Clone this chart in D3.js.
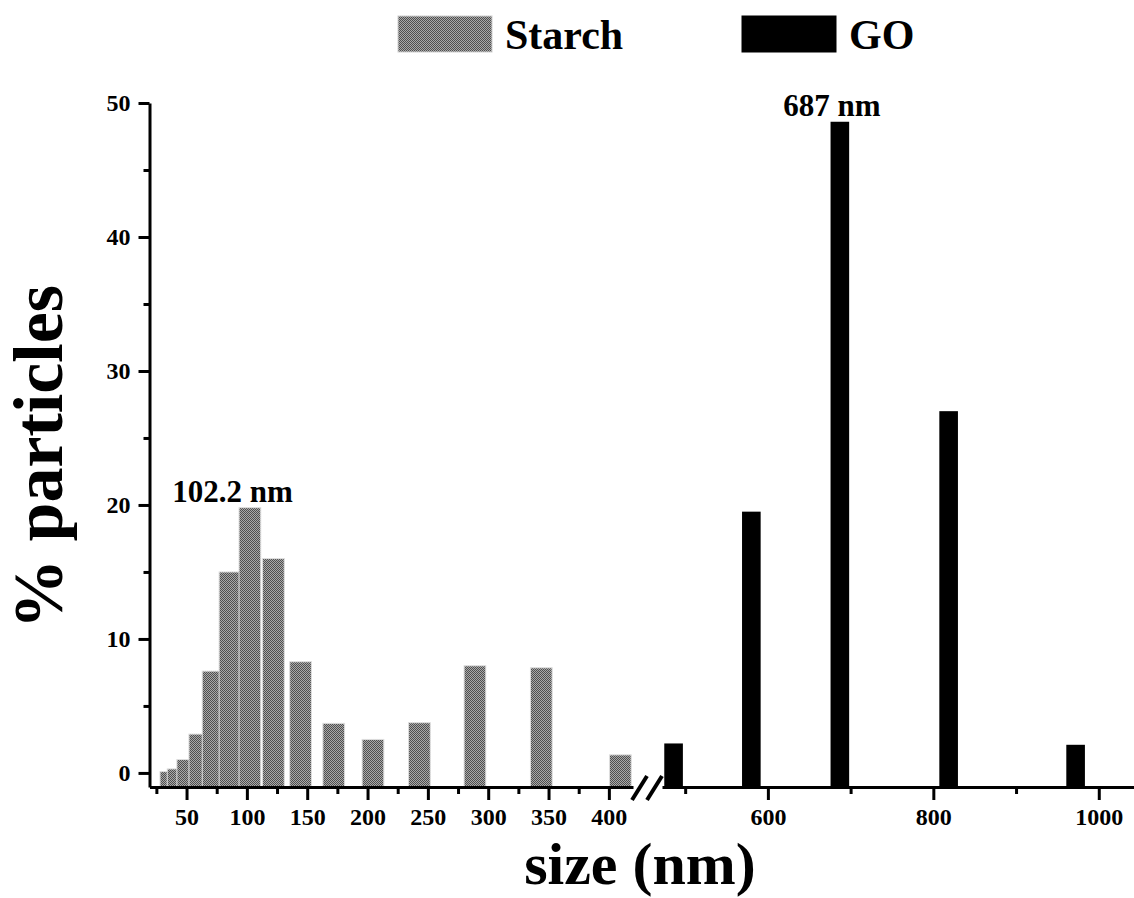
<!DOCTYPE html>
<html>
<head>
<meta charset="utf-8">
<script src="https://cdn.jsdelivr.net/npm/d3@7"></script>
<style>
  body { margin: 0; background: #fff; }
  svg text { font-family: "Liberation Serif", "Times New Roman", serif; font-weight: bold; fill: #000; }
</style>
</head>
<body>
<div id="graphic"></div>
<script>
// data
const starchSize = [37, 43, 51, 61, 72, 86, 102.5, 122, 144.5, 172, 204.5, 243, 289, 344, 409.5]
const starchPct = [0.1, 0.3, 1.0, 2.9, 7.6, 15.0, 19.8, 16.0, 8.3, 3.7, 2.5, 3.75, 8.0, 7.85, 1.35]
const goSize = [486, 580, 687, 818.5, 972]
const goPct = [2.2, 19.5, 48.6, 27.0, 2.1]
const seriesNames = ["Starch", "GO"]
const leftMajor = [50, 100, 150, 200, 250, 300, 350, 400]
const leftMinor = [25, 75, 125, 175, 225, 275, 325, 375]
const rightMajor = [600, 800, 1000]
const rightMinor = [500, 700, 900]
const yMajor = [0, 10, 20, 30, 40, 50]
const yMinor = [5, 15, 25, 35, 45]
const peakLabels = [{x: 102.2, y: 19.8, text: "102.2 nm", side: "left"}, {x: 687, y: 48.6, text: "687 nm", side: "right"}]

const starchWidth = 18
const goWidth = 22.5

const W = 1134, H = 898
const axisY = 787, axisX = 149.5

let svg = d3.select("#graphic").append("svg")
    .attr("width", W)
    .attr("height", H)

// checker pattern for the starch bars
let defs = svg.append("defs")
let pat = defs.append("pattern")
    .attr("id", "checker")
    .attr("width", 2).attr("height", 2)
    .attr("patternUnits", "userSpaceOnUse")
pat.append("rect").attr("width", 2).attr("height", 2).attr("fill", "#a9a9a9")
pat.append("rect").attr("width", 1).attr("height", 1).attr("fill", "#4f4f4f")
pat.append("rect").attr("x", 1).attr("y", 1).attr("width", 1).attr("height", 1).attr("fill", "#4f4f4f")

let y = d3.scaleLinear()
    .domain([-1.05, 50])
    .range([axisY, 103])

// broken x axis: two linear pieces
let xLeft = d3.scaleLinear()
    .domain([19.3, 420])
    .range([axisX, 633])
let xRight = d3.scaleLinear()
    .domain([472, 1045])
    .range([662, 1136])

// starch bars
svg.selectAll(null)
    .data(starchSize)
    .enter().append("rect")
    .attr("x", d => xLeft(d - starchWidth / 2))
    .attr("width", d => xLeft(d + starchWidth / 2) - xLeft(d - starchWidth / 2))
    .attr("y", (d, i) => y(starchPct[i]))
    .attr("height", (d, i) => y.range()[0] - y(starchPct[i]))
    .attr("fill", "url(#checker)")
    .attr("stroke", "#dedede")
    .attr("stroke-width", 1)

// GO bars
svg.selectAll(null)
    .data(goSize)
    .enter().append("rect")
    .attr("x", d => xRight(d - goWidth / 2))
    .attr("width", d => xRight(d + goWidth / 2) - xRight(d - goWidth / 2))
    .attr("y", (d, i) => y(goPct[i]))
    .attr("height", (d, i) => y.range()[0] - y(goPct[i]))
    .attr("fill", "#000")

function styleAxis(g) {
    g.select(".domain").attr("stroke-width", 3).attr("stroke", "#000")
    g.selectAll(".tick line").attr("stroke-width", 3).attr("stroke", "#000")
    g.selectAll(".tick text").attr("font-size", 24).attr("fill", "#000")
}

// y axis
let yAxis = svg.append("g")
    .attr("transform", "translate(" + axisX + ",0)")
    .call(d3.axisLeft(y).tickValues(yMajor).tickSize(11).tickSizeOuter(0).tickPadding(8))
styleAxis(yAxis)
let yMin = svg.append("g")
    .attr("transform", "translate(" + axisX + ",0)")
    .call(d3.axisLeft(y).tickValues(yMinor).tickSize(6).tickFormat(""))
yMin.select(".domain").remove()
styleAxis(yMin)

// x axis, left piece
let xa1 = svg.append("g")
    .attr("transform", "translate(0," + axisY + ")")
    .call(d3.axisBottom(xLeft).tickValues(leftMajor).tickFormat(d3.format("d")).tickSize(13).tickSizeOuter(0).tickPadding(8))
styleAxis(xa1)
let xa1m = svg.append("g")
    .attr("transform", "translate(0," + axisY + ")")
    .call(d3.axisBottom(xLeft).tickValues(leftMinor).tickSize(7).tickFormat(""))
xa1m.select(".domain").remove()
styleAxis(xa1m)

// x axis, right piece
let xa2 = svg.append("g")
    .attr("transform", "translate(0," + axisY + ")")
    .call(d3.axisBottom(xRight).tickValues(rightMajor).tickFormat(d3.format("d")).tickSize(13).tickSizeOuter(0).tickPadding(8))
styleAxis(xa2)
let xa2m = svg.append("g")
    .attr("transform", "translate(0," + axisY + ")")
    .call(d3.axisBottom(xRight).tickValues(rightMinor).tickSize(7).tickFormat(""))
xa2m.select(".domain").remove()
styleAxis(xa2m)

// break marks
svg.selectAll(null)
    .data([0, 15])
    .enter().append("line")
    .attr("x1", d => 632 + d)
    .attr("y1", axisY + 13)
    .attr("x2", d => 647 + d)
    .attr("y2", axisY - 11)
    .attr("stroke", "#000")
    .attr("stroke-width", 4)

// peak labels
svg.selectAll(null)
    .data(peakLabels)
    .enter().append("text")
    .attr("x", d => d.side == "left" ? xLeft(d.x) - 17 : xRight(d.x) - 8)
    .attr("y", d => y(d.y) - 6)
    .attr("text-anchor", "middle")
    .attr("font-size", 31)
    .text(d => d.text)

// axis titles
svg.append("text")
    .attr("x", 640)
    .attr("y", 884)
    .attr("text-anchor", "middle")
    .attr("font-size", 60)
    .text("size (nm)")

svg.append("text")
    .attr("transform", "translate(62,457) rotate(-90)")
    .attr("text-anchor", "middle")
    .attr("font-size", 70)
    .text("% particles")

// legend
const legendX = [398, 742]
let legend = svg.selectAll(null)
    .data(seriesNames)
    .enter().append("g")
    .attr("transform", (d, i) => "translate(" + legendX[i] + ",16)")
legend.append("rect")
    .attr("width", 94)
    .attr("height", 36)
    .attr("fill", (d, i) => i == 0 ? "url(#checker)" : "#000")
    .attr("stroke", (d, i) => i == 0 ? "#cfcfcf" : "#000")
legend.append("text")
    .attr("x", 107)
    .attr("y", 33)
    .attr("font-size", 42)
    .text(d => d)
</script>
</body>
</html>
